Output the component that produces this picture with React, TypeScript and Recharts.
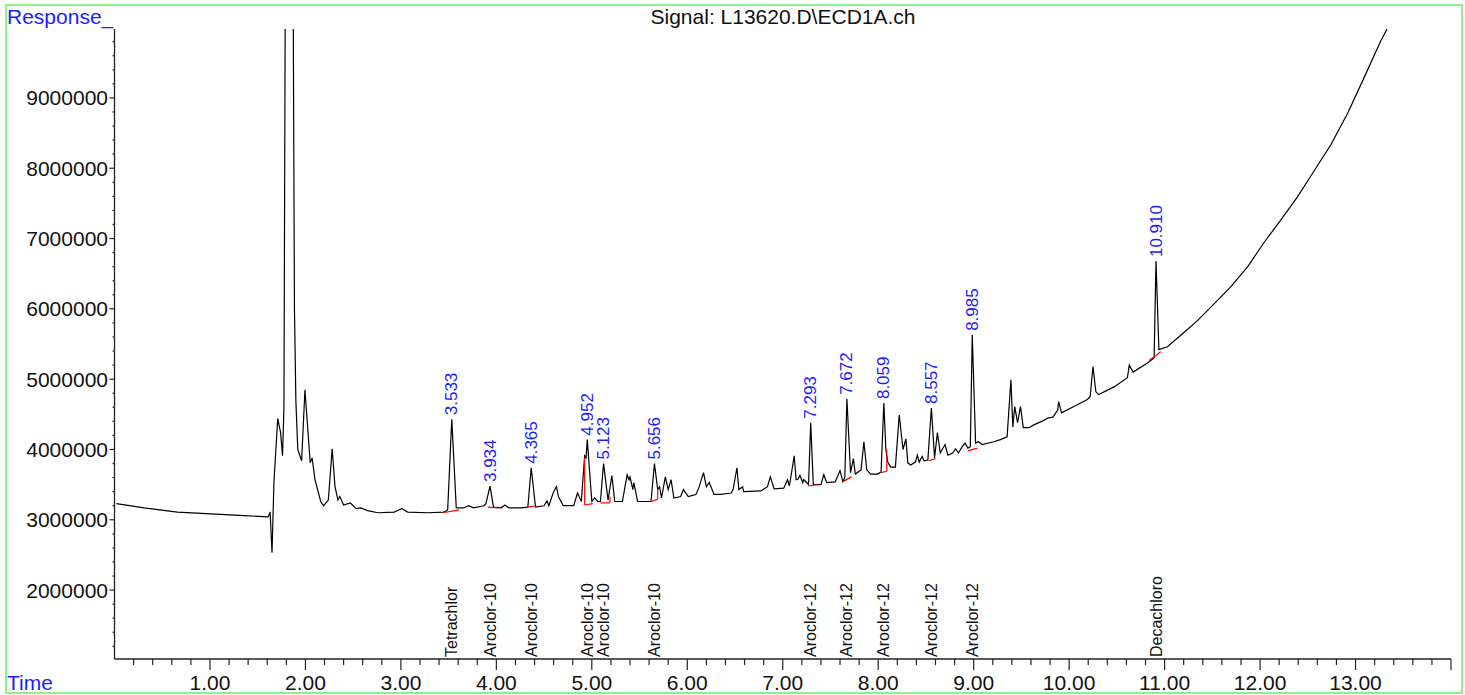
import React from 'react';
import { ComposedChart, Line, Scatter, XAxis, YAxis, ReferenceLine } from 'recharts';

// retention time (min) and detector response
const times = [
  0.02, 0.31, 0.66, 1.01, 1.36, 1.61, 1.63, 1.65, 1.67, 1.71, 1.74, 1.76,
  1.775, 1.79, 1.83, 1.87, 1.885, 1.9, 1.92, 1.96, 1.995, 2.05, 2.07, 2.1,
  2.16, 2.19, 2.24, 2.28, 2.31, 2.34, 2.36, 2.4, 2.47, 2.53, 2.58, 2.65,
  2.76, 2.93, 3.01, 3.07, 3.28, 3.45, 3.49, 3.533, 3.58, 3.66, 3.71, 3.76,
  3.87, 3.89, 3.934, 3.97, 4.05, 4.09, 4.13, 4.26, 4.33, 4.365, 4.41, 4.5,
  4.53, 4.55, 4.6, 4.63, 4.65, 4.7, 4.81, 4.85, 4.89, 4.925, 4.94, 4.952,
  5.0, 5.03, 5.06, 5.09, 5.123, 5.17, 5.21, 5.24, 5.32, 5.37, 5.39, 5.4,
  5.43, 5.44, 5.48, 5.62, 5.656, 5.69, 5.71, 5.73, 5.77, 5.8, 5.83, 5.86,
  5.93, 5.96, 6.01, 6.09, 6.12, 6.17, 6.2, 6.23, 6.28, 6.35, 6.46, 6.48,
  6.52, 6.54, 6.58, 6.59, 6.77, 6.84, 6.87, 6.91, 7.01, 7.05, 7.07, 7.12,
  7.14, 7.16, 7.18, 7.21, 7.22, 7.25, 7.27, 7.293, 7.32, 7.4, 7.43, 7.46,
  7.55, 7.6, 7.63, 7.65, 7.672, 7.71, 7.74, 7.76, 7.82, 7.85, 7.88, 7.92,
  7.99, 8.03, 8.059, 8.08, 8.1, 8.13, 8.18, 8.22, 8.26, 8.29, 8.31, 8.34,
  8.39, 8.41, 8.43, 8.46, 8.48, 8.52, 8.557, 8.59, 8.62, 8.65, 8.7, 8.73,
  8.78, 8.81, 8.84, 8.88, 8.91, 8.94, 8.965, 8.985, 9.02, 9.05, 9.09, 9.21,
  9.28, 9.35, 9.39, 9.41, 9.43, 9.46, 9.49, 9.52, 9.58, 9.63, 9.73, 9.78,
  9.83, 9.88, 9.89, 9.92, 10.05, 10.19, 10.22, 10.25, 10.28, 10.31, 10.47, 10.61,
  10.63, 10.67, 10.82, 10.89, 10.91, 10.94, 11.03, 11.2, 11.35, 11.51, 11.69, 11.87,
  12.04, 12.22, 12.39, 12.56, 12.74, 12.92, 13.08, 13.26, 13.33,
];

const responses = [
  3230000, 3170000, 3110000, 3085000, 3060000, 3040000, 3110000, 2530000, 3530000, 4440000, 4240000, 3910000,
  4600000, 11000000, 16000000, 11000000, 6000000, 4690000, 4000000, 3840000, 4850000, 3810000, 3880000, 3570000,
  3260000, 3200000, 3280000, 4010000, 3470000, 3280000, 3330000, 3210000, 3240000, 3160000, 3170000, 3130000,
  3100000, 3110000, 3160000, 3110000, 3100000, 3110000, 3140000, 4430000, 3170000, 3170000, 3200000, 3170000,
  3200000, 3230000, 3480000, 3180000, 3170000, 3210000, 3170000, 3170000, 3180000, 3740000, 3180000, 3200000,
  3270000, 3200000, 3400000, 3470000, 3330000, 3200000, 3200000, 3380000, 3260000, 3910000, 3880000, 4140000,
  3260000, 3310000, 3260000, 3260000, 3800000, 3280000, 3630000, 3260000, 3260000, 3640000, 3570000, 3610000,
  3430000, 3530000, 3260000, 3260000, 3800000, 3430000, 3470000, 3310000, 3610000, 3430000, 3570000, 3310000,
  3330000, 3430000, 3330000, 3360000, 3450000, 3670000, 3470000, 3530000, 3360000, 3360000, 3380000, 3430000,
  3740000, 3430000, 3470000, 3400000, 3410000, 3470000, 3610000, 3440000, 3450000, 3570000, 3480000, 3910000,
  3570000, 3580000, 3630000, 3530000, 3570000, 3530000, 3500000, 4380000, 3500000, 3500000, 3640000, 3530000,
  3540000, 3700000, 3540000, 3600000, 4720000, 3670000, 3870000, 3650000, 3710000, 4110000, 3710000, 3650000,
  3650000, 3680000, 4660000, 4000000, 3820000, 3750000, 3750000, 4490000, 4000000, 4150000, 3810000, 3780000,
  3820000, 3920000, 3820000, 3900000, 3840000, 3850000, 4590000, 3880000, 4240000, 3950000, 4070000, 3920000,
  3950000, 4010000, 3950000, 4040000, 4090000, 4020000, 4040000, 5630000, 4090000, 4110000, 4070000, 4110000,
  4140000, 4180000, 4990000, 4320000, 4610000, 4380000, 4610000, 4310000, 4310000, 4350000, 4410000, 4450000,
  4460000, 4560000, 4680000, 4520000, 4610000, 4710000, 4750000, 5180000, 4820000, 4780000, 4890000, 5020000,
  5200000, 5100000, 5230000, 5300000, 6680000, 5420000, 5460000, 5660000, 5840000, 6060000, 6310000, 6600000,
  6940000, 7270000, 7590000, 7950000, 8330000, 8790000, 9260000, 9800000, 9980000,
];

// integrated peaks
const peakTimes = [3.533, 3.934, 4.365, 4.952, 5.123, 5.656, 7.293, 7.672, 8.059, 8.557, 8.985, 10.91];
const peakTops = [4430000, 3480000, 3740000, 4140000, 3800000, 3800000, 4380000, 4720000, 4660000, 4590000, 5630000, 6680000];
const peakLabels = ['3.533', '3.934', '4.365', '4.952', '5.123', '5.656', '7.293', '7.672', '8.059', '8.557', '8.985', '10.910'];
const compoundNames = [
  'Tetrachlor', 'Aroclor-10', 'Aroclor-10', 'Aroclor-10', 'Aroclor-10', 'Aroclor-10',
  'Aroclor-12', 'Aroclor-12', 'Aroclor-12', 'Aroclor-12', 'Aroclor-12', 'Decachloro',
];

// red integration baselines: [t1, r1, t2, r2]
const baselines: [number, number, number, number][] = [
  [3.44, 3100000, 3.61, 3140000],
  [3.91, 3180000, 4.01, 3170000],
  [4.32, 3180000, 4.42, 3200000],
  [4.925, 3880000, 4.925, 3210000],
  [4.925, 3210000, 5.01, 3230000],
  [5.09, 3240000, 5.19, 3240000],
  [5.19, 3240000, 5.19, 3330000],
  [5.62, 3260000, 5.69, 3290000],
  [5.69, 3290000, 5.69, 3430000],
  [7.27, 3480000, 7.36, 3500000],
  [7.64, 3550000, 7.72, 3610000],
  [8.03, 3670000, 8.09, 3690000],
  [8.09, 3690000, 8.09, 4000000],
  [8.53, 3840000, 8.6, 3870000],
  [8.94, 3980000, 9.04, 4020000],
  [10.84, 5270000, 10.96, 5390000],
];

const xMajorTicks = [1, 2, 3, 4, 5, 6, 7, 8, 9, 10, 11, 12, 13];
const xTickLabels = ['1.00', '2.00', '3.00', '4.00', '5.00', '6.00', '7.00', '8.00', '9.00', '10.00', '11.00', '12.00', '13.00'];
const yMajorTicks = [2000000, 3000000, 4000000, 5000000, 6000000, 7000000, 8000000, 9000000];
const yTickLabels = ['2000000', '3000000', '4000000', '5000000', '6000000', '7000000', '8000000', '9000000'];

const X_DOMAIN: [number, number] = [0, 14];
const Y_DOMAIN: [number, number] = [1020000, 9980000];

const FONT = '"Liberation Sans", Arial, Helvetica, sans-serif';
const BLUE = '#1c1cff';
const AXIS = '#222';

// minor ticks every 0.2 min / 200000 counts
const xTicks = Array.from({ length: 70 }, (_, i) => (i + 1) / 5);
const yTicks = Array.from({ length: 44 }, (_, i) => 1200000 + i * 200000);

const trace = times.map((t, i) => ({ t, r: responses[i] }));
const peaks = peakTimes.map((t, i) => ({ t, r: peakTops[i], label: peakLabels[i] }));
const names = peakTimes.map((t, i) => ({ t, r: Y_DOMAIN[0], label: compoundNames[i] }));

const XTick = (props: any) => {
  const { x, y, payload } = props;
  const v = payload.value as number;
  const idx = xMajorTicks.indexOf(Math.round(v));
  const major = Math.abs(v - Math.round(v)) < 1e-6;
  return (
    <g>
      <line x1={x} x2={x} y1={y} y2={y + (major ? 11 : 6)} stroke={AXIS} strokeWidth={1.2} />
      {major && idx >= 0 && (
        <text x={x} y={y + 31} textAnchor="middle" fontSize={21} fontFamily={FONT} fill="#111">
          {xTickLabels[idx]}
        </text>
      )}
    </g>
  );
};

const YTick = (props: any) => {
  const { x, y, payload } = props;
  const v = payload.value as number;
  const idx = yMajorTicks.indexOf(v);
  return (
    <g>
      <line x1={x - (idx >= 0 ? 5 : 2)} x2={x} y1={y} y2={y} stroke={AXIS} strokeWidth={1.2} />
      {idx >= 0 && (
        <text x={x - 6.5} y={y + 7.5} textAnchor="end" fontSize={21} fontFamily={FONT} fill="#111">
          {yTickLabels[idx]}
        </text>
      )}
    </g>
  );
};

const PeakLabel = (props: any) => {
  const { cx, cy, payload } = props;
  const y0 = cy - 4;
  return (
    <text
      x={cx}
      y={y0}
      transform={`rotate(-90 ${cx} ${y0})`}
      dominantBaseline="central"
      fontSize={17}
      fontFamily={FONT}
      fill={BLUE}
    >
      {payload.label}
    </text>
  );
};

const NameLabel = (props: any) => {
  const { cx, cy, payload } = props;
  const y0 = cy - 2;
  return (
    <text
      x={cx}
      y={y0}
      transform={`rotate(-90 ${cx} ${y0})`}
      dominantBaseline="central"
      fontSize={16}
      fontFamily={FONT}
      fill="#111"
    >
      {payload.label}
    </text>
  );
};

export default function App() {
  return (
    <div style={{ position: 'absolute', left: 0, top: 0, width: 1465, height: 695, background: '#fff' }}>
      <div
        style={{
          position: 'absolute',
          left: 5,
          top: 4,
          width: 1458,
          height: 690,
          border: '2px solid #8cf08c',
          boxSizing: 'border-box',
        }}
      />
      <div style={{ position: 'absolute', left: 0, top: 0 }}>
        <ComposedChart width={1465} height={695} margin={{ top: 29, right: 14, bottom: 0, left: 0 }}>
          <XAxis
            type="number"
            dataKey="t"
            domain={X_DOMAIN}
            allowDataOverflow
            ticks={xTicks}
            interval={0}
            tick={<XTick />}
            tickLine={false}
            tickSize={0}
            tickMargin={0}
            height={36}
            axisLine={{ stroke: AXIS, strokeWidth: 1.3 }}
          />
          <YAxis
            type="number"
            dataKey="r"
            domain={Y_DOMAIN}
            allowDataOverflow
            ticks={yTicks}
            interval={0}
            tick={<YTick />}
            tickLine={false}
            tickSize={0}
            tickMargin={0}
            width={114.5}
            axisLine={{ stroke: AXIS, strokeWidth: 1.3 }}
          />
          <Line
            data={trace}
            dataKey="r"
            type="linear"
            stroke="#000"
            strokeWidth={1.2}
            dot={false}
            activeDot={false}
            isAnimationActive={false}
          />
          {baselines.map(([t1, r1, t2, r2], i) => (
            <ReferenceLine
              key={i}
              segment={[{ x: t1, y: r1 }, { x: t2, y: r2 }]}
              stroke="#ff0000"
              strokeWidth={1.2}
            />
          ))}
          <Scatter data={peaks} dataKey="r" shape={<PeakLabel />} isAnimationActive={false} />
          <Scatter data={names} dataKey="r" shape={<NameLabel />} isAnimationActive={false} />
        </ComposedChart>
      </div>
      <svg
        width={1465}
        height={695}
        style={{ position: 'absolute', left: 0, top: 0, pointerEvents: 'none' }}
      >
        <text x={7} y={24} fontSize={21} fontFamily={FONT} fill={BLUE}>Response_</text>
        <text x={783} y={24} fontSize={21} fontFamily={FONT} fill="#111" textAnchor="middle">
          Signal: L13620.D\ECD1A.ch
        </text>
        <text x={7} y={690} fontSize={21} fontFamily={FONT} fill={BLUE}>Time</text>
      </svg>
    </div>
  );
}
